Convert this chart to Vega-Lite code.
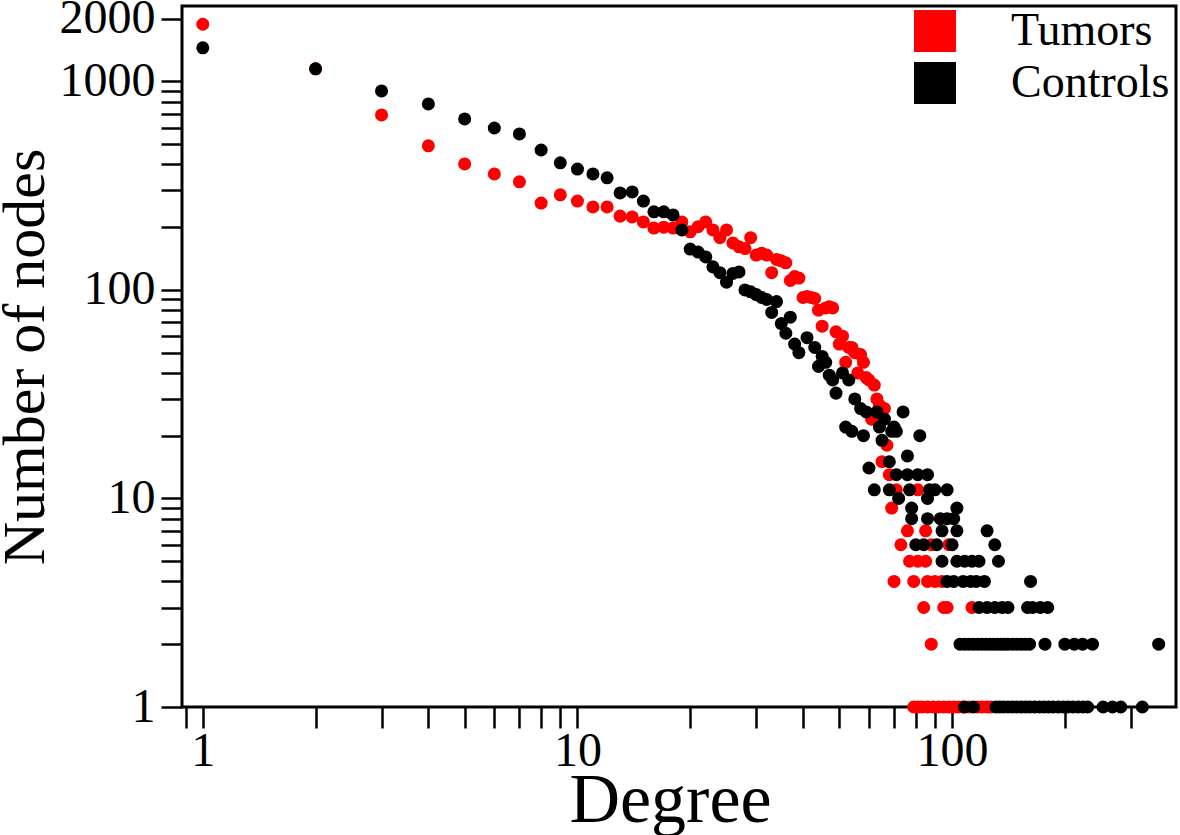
{
  "$schema": "https://vega.github.io/schema/vega-lite/v6.json",
  "width": 994,
  "height": 701,
  "autosize": {"type": "none"},
  "padding": {"left": 182, "top": 6, "right": 4, "bottom": 128},
  "background": "white",
  "config": {"view": {"stroke": "black", "strokeWidth": 3}, "font": "Liberation Serif"},
  "data": {"values": [
    {"g":"Tumors","d":1,"n":1880},{"g":"Tumors","d":2,"n":1150},{"g":"Tumors","d":3,"n":691},{"g":"Tumors","d":4,"n":491},{"g":"Tumors","d":5,"n":402},{"g":"Tumors","d":6,"n":360},{"g":"Tumors","d":7,"n":330},{"g":"Tumors","d":8,"n":261},{"g":"Tumors","d":9,"n":286},{"g":"Tumors","d":10,"n":267},
    {"g":"Tumors","d":11,"n":250},{"g":"Tumors","d":12,"n":250},{"g":"Tumors","d":13,"n":226},{"g":"Tumors","d":14,"n":224},{"g":"Tumors","d":15,"n":212},{"g":"Tumors","d":16,"n":198},{"g":"Tumors","d":17,"n":200},{"g":"Tumors","d":18,"n":198},{"g":"Tumors","d":19,"n":212},{"g":"Tumors","d":20,"n":190},
    {"g":"Tumors","d":21,"n":201},{"g":"Tumors","d":22,"n":212},{"g":"Tumors","d":23,"n":194},{"g":"Tumors","d":24,"n":178},{"g":"Tumors","d":25,"n":194},{"g":"Tumors","d":26,"n":168},{"g":"Tumors","d":27,"n":161},{"g":"Tumors","d":28,"n":158},{"g":"Tumors","d":29,"n":178},{"g":"Tumors","d":30,"n":147},
    {"g":"Tumors","d":31,"n":150},{"g":"Tumors","d":32,"n":147},{"g":"Tumors","d":33,"n":121},{"g":"Tumors","d":34,"n":140},{"g":"Tumors","d":35,"n":138},{"g":"Tumors","d":36,"n":135},{"g":"Tumors","d":37,"n":111},{"g":"Tumors","d":38,"n":116},{"g":"Tumors","d":39,"n":114},{"g":"Tumors","d":40,"n":92},
    {"g":"Tumors","d":41,"n":93},{"g":"Tumors","d":42,"n":92},{"g":"Tumors","d":43,"n":91},{"g":"Tumors","d":44,"n":80},{"g":"Tumors","d":45,"n":67},{"g":"Tumors","d":46,"n":82},{"g":"Tumors","d":47,"n":83},{"g":"Tumors","d":48,"n":82},{"g":"Tumors","d":49,"n":63},{"g":"Tumors","d":50,"n":55},
    {"g":"Tumors","d":51,"n":60},{"g":"Tumors","d":52,"n":45},{"g":"Tumors","d":53,"n":53},{"g":"Tumors","d":54,"n":53},{"g":"Tumors","d":55,"n":50},{"g":"Tumors","d":56,"n":40},{"g":"Tumors","d":57,"n":49},{"g":"Tumors","d":58,"n":45},{"g":"Tumors","d":59,"n":38},{"g":"Tumors","d":60,"n":37},
    {"g":"Tumors","d":61,"n":24},{"g":"Tumors","d":62,"n":35},{"g":"Tumors","d":63,"n":30},{"g":"Tumors","d":64,"n":28},{"g":"Tumors","d":65,"n":15},{"g":"Tumors","d":66,"n":27},{"g":"Tumors","d":67,"n":18},{"g":"Tumors","d":68,"n":13},{"g":"Tumors","d":69,"n":9},{"g":"Tumors","d":70,"n":4},
    {"g":"Tumors","d":71,"n":11},{"g":"Tumors","d":73,"n":6},{"g":"Tumors","d":76,"n":7},{"g":"Tumors","d":77,"n":5},{"g":"Tumors","d":79,"n":4},{"g":"Tumors","d":81,"n":11},{"g":"Tumors","d":81,"n":5},{"g":"Tumors","d":84,"n":3},{"g":"Tumors","d":85,"n":7},{"g":"Tumors","d":85,"n":5},
    {"g":"Tumors","d":86,"n":4},{"g":"Tumors","d":88,"n":2},{"g":"Tumors","d":88,"n":6},{"g":"Tumors","d":90,"n":4},{"g":"Tumors","d":94,"n":4},{"g":"Tumors","d":95,"n":3},{"g":"Tumors","d":97,"n":3},{"g":"Tumors","d":98,"n":6},{"g":"Tumors","d":113,"n":3},
    {"g":"Tumors","d":79,"n":1},{"g":"Tumors","d":81,"n":1},{"g":"Tumors","d":83,"n":1},{"g":"Tumors","d":86,"n":1},{"g":"Tumors","d":89,"n":1},{"g":"Tumors","d":92,"n":1},{"g":"Tumors","d":95,"n":1},{"g":"Tumors","d":98,"n":1},{"g":"Tumors","d":101,"n":1},{"g":"Tumors","d":104,"n":1},
    {"g":"Tumors","d":107,"n":1},{"g":"Tumors","d":111,"n":1},{"g":"Tumors","d":117,"n":1},{"g":"Tumors","d":120,"n":1},{"g":"Tumors","d":124,"n":1},{"g":"Tumors","d":127,"n":1},
    {"g":"Controls","d":1,"n":1450},{"g":"Controls","d":2,"n":1150},{"g":"Controls","d":3,"n":900},{"g":"Controls","d":4,"n":780},{"g":"Controls","d":5,"n":661},{"g":"Controls","d":6,"n":598},{"g":"Controls","d":7,"n":560},{"g":"Controls","d":8,"n":469},{"g":"Controls","d":9,"n":407},{"g":"Controls","d":10,"n":380},
    {"g":"Controls","d":11,"n":360},{"g":"Controls","d":12,"n":345},{"g":"Controls","d":13,"n":292},{"g":"Controls","d":14,"n":295},{"g":"Controls","d":15,"n":267},{"g":"Controls","d":16,"n":237},{"g":"Controls","d":17,"n":237},{"g":"Controls","d":18,"n":229},{"g":"Controls","d":19,"n":194},{"g":"Controls","d":20,"n":157},
    {"g":"Controls","d":21,"n":152},{"g":"Controls","d":22,"n":144},{"g":"Controls","d":23,"n":129},{"g":"Controls","d":24,"n":121},{"g":"Controls","d":25,"n":109},{"g":"Controls","d":26,"n":120},{"g":"Controls","d":27,"n":122},{"g":"Controls","d":28,"n":100},{"g":"Controls","d":29,"n":98},{"g":"Controls","d":30,"n":95},
    {"g":"Controls","d":31,"n":92},{"g":"Controls","d":32,"n":90},{"g":"Controls","d":33,"n":78},{"g":"Controls","d":34,"n":88},{"g":"Controls","d":35,"n":69},{"g":"Controls","d":36,"n":62},{"g":"Controls","d":37,"n":74},{"g":"Controls","d":38,"n":55},{"g":"Controls","d":39,"n":50},{"g":"Controls","d":41,"n":59},
    {"g":"Controls","d":43,"n":53},{"g":"Controls","d":44,"n":43},{"g":"Controls","d":45,"n":48},{"g":"Controls","d":46,"n":45},{"g":"Controls","d":47,"n":39},{"g":"Controls","d":48,"n":37},{"g":"Controls","d":49,"n":32},{"g":"Controls","d":51,"n":40},{"g":"Controls","d":52,"n":22},{"g":"Controls","d":53,"n":37},
    {"g":"Controls","d":54,"n":21},{"g":"Controls","d":55,"n":30},{"g":"Controls","d":57,"n":27},{"g":"Controls","d":58,"n":20},{"g":"Controls","d":59,"n":26},{"g":"Controls","d":60,"n":14},{"g":"Controls","d":62,"n":11},{"g":"Controls","d":63,"n":26},{"g":"Controls","d":64,"n":22},{"g":"Controls","d":65,"n":19},
    {"g":"Controls","d":66,"n":24},{"g":"Controls","d":68,"n":15},{"g":"Controls","d":68,"n":11},{"g":"Controls","d":69,"n":21},{"g":"Controls","d":70,"n":22},{"g":"Controls","d":71,"n":21},{"g":"Controls","d":71,"n":13},{"g":"Controls","d":72,"n":10},{"g":"Controls","d":74,"n":26},{"g":"Controls","d":76,"n":16},
    {"g":"Controls","d":76,"n":13},{"g":"Controls","d":77,"n":11},{"g":"Controls","d":78,"n":9},{"g":"Controls","d":78,"n":8},{"g":"Controls","d":80,"n":6},{"g":"Controls","d":81,"n":13},{"g":"Controls","d":82,"n":20},{"g":"Controls","d":84,"n":6},{"g":"Controls","d":86,"n":13},{"g":"Controls","d":86,"n":10},
    {"g":"Controls","d":86,"n":8},{"g":"Controls","d":87,"n":11},{"g":"Controls","d":90,"n":11},{"g":"Controls","d":91,"n":6},{"g":"Controls","d":93,"n":8},{"g":"Controls","d":94,"n":7},{"g":"Controls","d":94,"n":5},{"g":"Controls","d":97,"n":11},{"g":"Controls","d":97,"n":8},{"g":"Controls","d":97,"n":4},
    {"g":"Controls","d":100,"n":6},{"g":"Controls","d":101,"n":8},{"g":"Controls","d":101,"n":4},{"g":"Controls","d":103,"n":9},{"g":"Controls","d":103,"n":7},{"g":"Controls","d":103,"n":5},{"g":"Controls","d":107,"n":4},{"g":"Controls","d":108,"n":5},{"g":"Controls","d":108,"n":1},{"g":"Controls","d":112,"n":4},
    {"g":"Controls","d":113,"n":5},{"g":"Controls","d":114,"n":1},{"g":"Controls","d":116,"n":4},{"g":"Controls","d":118,"n":5},{"g":"Controls","d":118,"n":3},{"g":"Controls","d":122,"n":4},{"g":"Controls","d":124,"n":7},{"g":"Controls","d":124,"n":3},{"g":"Controls","d":130,"n":6},{"g":"Controls","d":130,"n":3},
    {"g":"Controls","d":133,"n":5},{"g":"Controls","d":136,"n":3},{"g":"Controls","d":141,"n":3},{"g":"Controls","d":159,"n":3},{"g":"Controls","d":162,"n":4},{"g":"Controls","d":164,"n":3},{"g":"Controls","d":172,"n":3},{"g":"Controls","d":180,"n":3},
    {"g":"Controls","d":105,"n":2},{"g":"Controls","d":108,"n":2},{"g":"Controls","d":111,"n":2},{"g":"Controls","d":114,"n":2},{"g":"Controls","d":117,"n":2},{"g":"Controls","d":120,"n":2},{"g":"Controls","d":123,"n":2},{"g":"Controls","d":126,"n":2},{"g":"Controls","d":129,"n":2},{"g":"Controls","d":132,"n":2},
    {"g":"Controls","d":135,"n":2},{"g":"Controls","d":138,"n":2},{"g":"Controls","d":141,"n":2},{"g":"Controls","d":145,"n":2},{"g":"Controls","d":149,"n":2},{"g":"Controls","d":153,"n":2},{"g":"Controls","d":157,"n":2},{"g":"Controls","d":161,"n":2},{"g":"Controls","d":177,"n":2},{"g":"Controls","d":200,"n":2},
    {"g":"Controls","d":212,"n":2},{"g":"Controls","d":223,"n":2},{"g":"Controls","d":237,"n":2},{"g":"Controls","d":356,"n":2},
    {"g":"Controls","d":131,"n":1},{"g":"Controls","d":134,"n":1},{"g":"Controls","d":137,"n":1},{"g":"Controls","d":141,"n":1},{"g":"Controls","d":145,"n":1},{"g":"Controls","d":149,"n":1},{"g":"Controls","d":153,"n":1},{"g":"Controls","d":157,"n":1},{"g":"Controls","d":161,"n":1},{"g":"Controls","d":166,"n":1},
    {"g":"Controls","d":171,"n":1},{"g":"Controls","d":176,"n":1},{"g":"Controls","d":181,"n":1},{"g":"Controls","d":186,"n":1},{"g":"Controls","d":192,"n":1},{"g":"Controls","d":198,"n":1},{"g":"Controls","d":204,"n":1},{"g":"Controls","d":210,"n":1},{"g":"Controls","d":217,"n":1},{"g":"Controls","d":224,"n":1},
    {"g":"Controls","d":230,"n":1},{"g":"Controls","d":253,"n":1},{"g":"Controls","d":268,"n":1},{"g":"Controls","d":282,"n":1},{"g":"Controls","d":322,"n":1}
  ]},
  "mark": {"type": "circle", "size": 170, "opacity": 1},
  "encoding": {
    "x": {
      "field": "d", "type": "quantitative",
      "scale": {"type": "log", "domain": [0.88, 396], "nice": false},
      "axis": {
        "title": "Degree",
        "values": [0.9,1,2,3,4,5,6,7,8,9,10,20,30,40,50,60,70,80,90,100,200,300],
        "labelExpr": "(datum.value==1||datum.value==10||datum.value==100) ? ''+datum.value : ''",
        "domain": false, "grid": false,
        "tickSize": 21, "tickWidth": 2.5, "tickColor": "black",
        "encode": {"ticks": {"update": {"y2": {"signal": "(datum.value==1||datum.value==10||datum.value==100) ? -44 : -21"}}}},
        "labelFont": "Liberation Serif", "labelFontSize": 48, "labelColor": "black",
        "labelPadding": -1, "labelFlush": false, "labelOverlap": false,
        "titleFont": "Liberation Serif", "titleFontSize": 70, "titleFontWeight": "normal", "titleColor": "black", "titlePadding": -9,
        "titleX": 488
      }
    },
    "y": {
      "field": "n", "type": "quantitative",
      "scale": {"type": "log", "domain": [1, 2300], "nice": false},
      "axis": {
        "title": "Number of nodes",
        "values": [1,2,3,4,5,6,7,8,9,10,20,30,40,50,60,70,80,90,100,200,300,400,500,600,700,800,900,1000,2000],
        "labelExpr": "indexof([1,10,100,1000,2000], datum.value) >= 0 ? ''+datum.value : ''",
        "domain": false, "grid": false,
        "tickSize": 21, "tickWidth": 2.5, "tickColor": "black",
        "encode": {"ticks": {"update": {"x2": {"signal": "indexof([1,10,100,1000,2000], datum.value) >= 0 ? 36 : 21"}}}},
        "labelFont": "Liberation Serif", "labelFontSize": 48, "labelColor": "black",
        "labelPadding": 6, "labelFlush": false, "labelOverlap": false,
        "titleFont": "Liberation Serif", "titleFontSize": 60, "titleFontWeight": "normal", "titleColor": "black", "titlePadding": 3
      }
    },
    "color": {
      "field": "g", "type": "nominal",
      "scale": {"domain": ["Tumors", "Controls"], "range": ["#ff0000", "#000000"]},
      "legend": {
        "title": null, "orient": "none", "legendX": 730, "legendY": 2,
        "symbolType": "square", "symbolSize": 1764, "symbolStrokeWidth": 0, "symbolOpacity": 1,
        "labelFont": "Liberation Serif", "labelFontSize": 46, "labelColor": "black",
        "labelOffset": 53, "rowPadding": 6, "padding": 0, "offset": 0
      }
    }
  }
}
